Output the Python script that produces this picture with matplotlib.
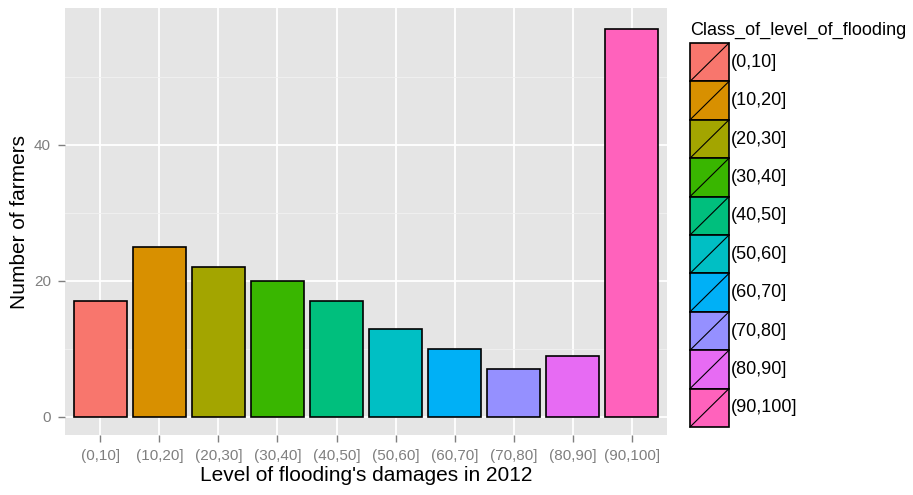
import matplotlib.pyplot as plt
from matplotlib.patches import Rectangle
import numpy as np

plt.rcParams['font.family'] = ['Liberation Sans', 'DejaVu Sans']

classes = ["(0,10]", "(10,20]", "(20,30]", "(30,40]", "(40,50]",
           "(50,60]", "(60,70]", "(70,80]", "(80,90]", "(90,100]"]
farmers = [17, 25, 22, 20, 17, 13, 10, 7, 9, 57]
colors = ["#F8766D", "#D89000", "#A3A500", "#39B600", "#00BF7D",
          "#00BFC4", "#00B0F6", "#9590FF", "#E76BF3", "#FF62BC"]

fig = plt.figure(figsize=(9.13, 4.95), dpi=100)
ax = fig.add_axes([0.0712, 0.1212, 0.6594, 0.8626])
ax.set_facecolor("#E5E5E5")

x = np.arange(1, len(classes) + 1)
ax.bar(x, farmers, width=0.9, color=colors, edgecolor="black", linewidth=1.2, zorder=3)

ax.set_xlim(0.4, len(classes) + 0.6)
ax.set_ylim(-2.65, 60.1)
ax.set_xticks(x)
ax.set_xticklabels(classes)
ax.set_yticks([0, 20, 40])
ax.set_yticks([10, 30, 50], minor=True)
ax.grid(True, which="major", color="white", linewidth=1.3, zorder=0)
ax.grid(True, which="minor", axis="y", color="#F2F2F2", linewidth=0.6, zorder=0)
ax.set_axisbelow(True)
for s in ax.spines.values():
    s.set_visible(False)
ax.tick_params(axis="both", which="major", colors="#7F7F7F", labelcolor="#7F7F7F",
               labelsize=11, length=5, width=1, pad=5)
ax.tick_params(axis="y", which="minor", length=0)
ax.set_xlabel("Level of flooding's damages in 2012", fontsize=15, labelpad=2)
ax.set_ylabel("Number of farmers", fontsize=15, labelpad=4)

# legend drawn by hand so keys get the diagonal line like ggplot
fig.text(690 / 913, 1 - 30 / 495, "Class_of_level_of_flooding", fontsize=13,
         ha="left", va="center")
lax = fig.add_axes([690 / 913, 1 - 427 / 495, 39 / 913, 384 / 495])
lax.set_xlim(0, 1)
lax.set_ylim(len(classes), 0)
lax.axis("off")
for i, (lab, c) in enumerate(zip(classes, colors)):
    lax.add_patch(Rectangle((0, i), 1, 1, facecolor=c, edgecolor="black", linewidth=1.2,
                            clip_on=False))
    lax.plot([0, 1], [i + 1, i], color="black", linewidth=0.8, clip_on=False)
    fig.text(731 / 913, 1 - (43 + 38.4 * (i + 0.5)) / 495, lab, fontsize=13,
             ha="left", va="center")

fig.savefig("out.png", dpi=100)
